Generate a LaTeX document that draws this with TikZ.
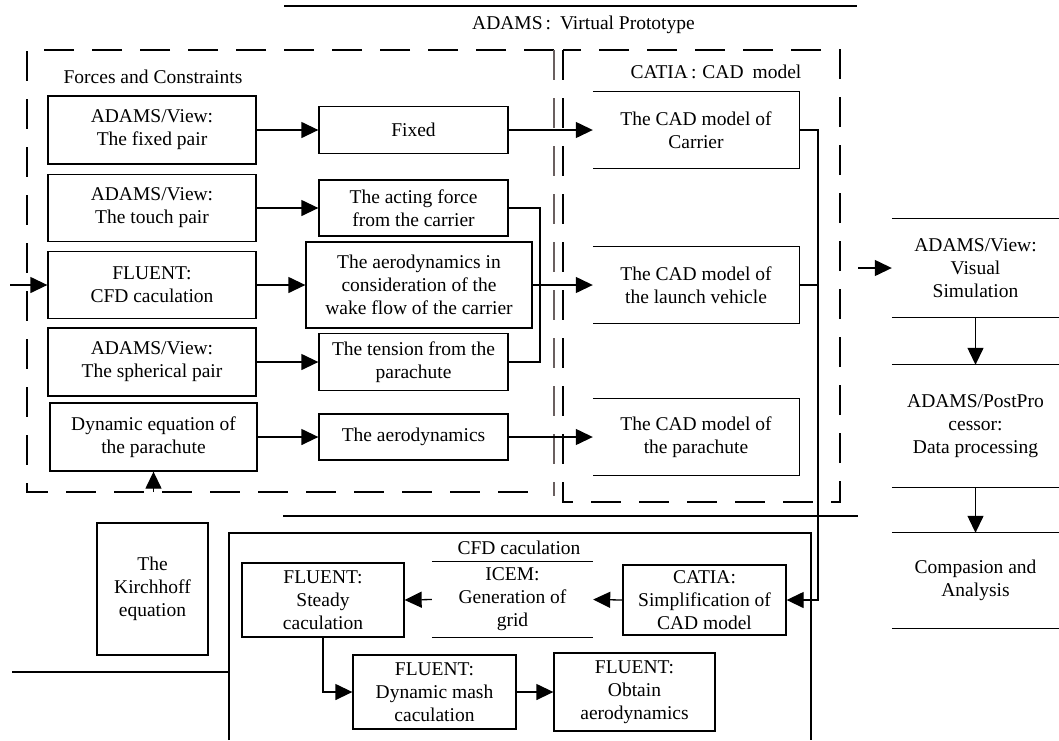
\documentclass[tikz,border=0pt]{standalone}
\usepackage{fontspec}
\setmainfont{Liberation Serif}
\usetikzlibrary{arrows.meta,calc}
\definecolor{dgray}{RGB}{105,95,95}
\begin{document}
\begin{tikzpicture}[x=1pt,y=-1pt,
  txt/.style={font=\fontsize{19.5}{23}\selectfont, align=center, inner sep=1pt},
  bx/.style 2 args={txt, draw, line width=1.3pt, minimum width=#1, minimum height=#2},
  ob/.style 2 args={txt, minimum width=#1, minimum height=#2},
  ln/.style={line width=1.3pt},
  arr/.style={line width=1.3pt, -{Triangle[length=17pt,width=16pt]}},
  dsh/.style={line width=2.8pt, dash pattern=on 30pt off 18pt},
  gdsh/.style={line width=2.4pt, dgray, dash pattern=on 30pt off 18pt}
]
\fill[white] (0,0) rectangle (1059,740);
\useasboundingbox (0,0) rectangle (1059,740);

% header
\draw[ln] (284,6) -- (857,6);
\node[txt, anchor=west] (hdr) at (471,25) {ADAMS\hspace{3pt}:\hspace{9pt}Virtual Prototype};

% dashed groups
\draw[dsh] (554,50) -- (27,50) -- (27,492) -- (540,492);
\draw[gdsh] (554,50) -- (554,496);
\draw[dsh] (563,50) rectangle (840,502);
\node[txt] (fc) at (153,77) {Forces and Constraints};
\node[txt] (cat) at (716,72) {CATIA\hspace{3pt}:\hspace{6pt}CAD\hspace{9pt}model};

% left column
\node[bx={208}{68}] (b1) at (152,130) {ADAMS/View:\\The fixed pair};
\node[bx={208}{67}] (b2) at (152,208) {ADAMS/View:\\The touch pair};
\node[bx={208}{67}] (b3) at (152,285) {FLUENT:\\CFD caculation};
\node[bx={208}{68}] (b4) at (152,362) {ADAMS/View:\\The spherical pair};
\node[bx={207}{68}] (b5) at (153.5,437) {Dynamic equation of\\the parachute};

% middle column
\node[bx={189}{47}] (m1) at (413.5,130) {Fixed};
\node[bx={189}{56}] (m2) at (413.5,208) {The acting force\\from the carrier};
\node[bx={226}{86}] (m3) at (419,285) {The aerodynamics in\\consideration of the\\wake flow of the carrier};
\node[bx={189}{57}] (m4) at (413.5,362) {The tension from the\\parachute};
\node[bx={189}{46}] (m5) at (413.5,437) {The aerodynamics};

% CATIA boxes (open on the left)
\node[ob={206}{76}] (c1) at (696,130) {The CAD model of\\Carrier};
\node[ob={206}{76}] (c2) at (696,285) {The CAD model of\\the launch vehicle};
\node[ob={206}{76}] (c3) at (696,437) {The CAD model of\\the parachute};
\foreach \n in {c1,c2,c3}
  \draw[ln] (\n.north west) -- (\n.north east) -- (\n.south east) -- (\n.south west);

% right column
\node[ob={167}{98}] (r1) at (975.5,268) {ADAMS/View:\\Visual\\Simulation};
\node[ob={167}{122}] (r2) at (975.5,426) {ADAMS/PostPro\\cessor:\\Data processing};
\node[ob={167}{95}] (r3) at (975.5,580.5) {Compasion and\\Analysis};
\foreach \n in {r1,r2,r3}{
  \draw[ln] (\n.north west) -- (\n.north east);
  \draw[ln] (\n.south west) -- (\n.south east);
}

% lower part
\draw[ln] (283,516) -- (858,516);
\node[bx={111}{132}] (kir) at (152.5,589) {The\\Kirchhoff\\equation};
\draw[ln] (229,740) -- (229,533) -- (811,533) -- (811,740);
\coordinate (kl) at (12,672);
\draw[ln] (kl) -- (229,672);
\node[txt] (cfdt) at (519,548) {CFD caculation};
\node[bx={162}{74}] (st) at (323,600) {FLUENT:\\Steady\\caculation};
\node[ob={161}{75}] (icem) at (512.5,599.5) {ICEM:\\Generation of\\grid};
\draw[ln] (icem.north west) -- (icem.north east);
\draw[ln] (icem.south west) -- (icem.south east);
\node[bx={163}{70}] (simp) at (704.5,600) {CATIA:\\Simplification of\\CAD model};
\node[bx={163}{74}] (mash) at (434.5,692) {FLUENT:\\Dynamic mash\\caculation};
\node[bx={161}{78}] (obt) at (634.5,692) {FLUENT:\\Obtain\\aerodynamics};

% connectors
\foreach \i in {1,...,5} \draw[arr] (b\i.east) -- (m\i.west);
\draw[arr] (m1.east) -- (c1.west);
\draw[arr] (m3.east) -- (c2.west);
\draw[arr] (m5.east) -- (c3.west);
\draw[ln] (m2.east) -- (540,208) -- (540,362) -- (m4.east);
\coordinate (la) at (10,285);
\draw[arr] (la) -- (b3.west);
\coordinate (ua) at (153.5,492);
\draw[arr] (ua) -- (b5.south);
\draw[arr] (c1.east) -| (818,600) -- (simp.east);
\draw[ln] (c2.east) -- (818,285);
\coordinate (fa) at (858,268);
\draw[arr] (fa) -- (r1.west);
\draw[arr] (r1.south) -- (r2.north);
\draw[arr] (r2.south) -- (r3.north);
\draw[arr] (simp.west) -- (icem.east);
\draw[arr] (icem.west) -- (st.east);
\draw[arr] (st.south) |- (mash.west);
\draw[arr] (mash.east) -- (obt.west);
\end{tikzpicture}
\end{document}
